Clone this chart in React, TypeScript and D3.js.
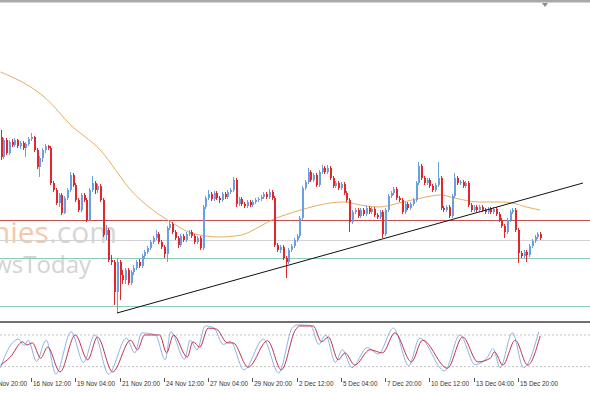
import React, { useEffect } from "react";
import * as d3 from "d3";

// ---- Data (prices in pips above the lowest visible level) ----
const firstOpen = 178;
const closes = [
  158,175,162,173,170,175,169,172,167,171,
  176,178,165,148,157,165,169,167,132,125,
  112,120,102,117,125,140,130,115,105,120,
  115,95,125,132,125,129,115,80,85,55,
  53,23,53,40,35,45,32,43,47,53,
  49,59,63,67,73,77,81,73,68,61,
  87,91,83,77,70,79,75,81,83,79,
  73,77,67,108,117,121,116,122,117,115,
  121,118,123,125,135,111,116,111,109,113,
  110,113,115,116,118,121,118,123,117,70,
  65,68,57,53,65,69,75,79,97,127,
  133,143,135,140,130,143,147,143,147,137,
  129,132,127,131,122,115,93,103,105,99,
  105,101,107,103,106,100,98,103,81,105,
  119,122,126,117,115,103,111,107,111,115,
  132,149,137,132,135,129,125,130,137,107,
  105,108,99,119,137,132,133,129,132,110,
  105,108,105,108,105,103,106,103,106,101,
  95,89,83,95,103,105,85,62,59,63,
  60,69,74,78,81,77,
];
const highs = [
  185,177,177,175,176,177,176,174,174,173,
  178,182,179,167,159,167,171,170,169,134,
  127,122,122,119,127,143,142,132,117,122,
  122,117,127,139,134,131,131,117,90,87,
  60,55,57,55,45,47,47,45,50,55,
  56,61,65,69,75,79,85,83,75,70,
  89,94,93,85,79,81,81,83,85,85,
  81,79,79,110,119,125,123,124,124,119,
  123,123,125,127,138,137,118,118,113,115,
  115,115,117,118,120,123,123,126,125,119,
  72,70,70,59,67,71,77,81,99,129,
  135,147,145,142,142,145,150,149,150,149,
  139,134,134,133,133,124,117,105,107,107,
  107,107,109,109,108,108,102,105,105,107,
  121,124,128,128,119,117,113,113,113,117,
  134,153,151,139,137,137,131,132,153,139,
  109,110,110,121,142,139,135,135,134,134,
  112,110,110,110,110,107,108,108,108,108,
  103,97,91,97,105,107,107,87,64,65,
  65,71,76,80,83,83,
];
const lows = [
  155,156,160,160,168,168,167,166,165,158,
  169,174,163,146,138,153,162,165,130,123,
  110,108,100,101,115,123,128,113,103,103,
  113,93,94,123,121,122,113,78,75,53,
  50,10,2,15,31,31,30,30,40,45,
  47,47,56,61,65,71,75,71,66,57,
  53,85,81,75,67,68,73,73,79,77,
  71,71,65,65,106,115,114,114,115,112,
  113,116,116,121,123,108,109,109,107,107,
  108,108,111,113,114,116,116,116,115,68,
  63,62,55,37,51,63,67,73,77,95,
  125,131,133,133,128,128,141,141,141,135,
  127,127,125,125,120,113,83,91,101,97,
  97,99,99,101,101,98,96,96,77,79,
  103,117,120,115,113,101,101,105,105,109,
  113,130,135,130,130,127,123,123,128,105,
  103,103,97,97,117,130,130,127,127,108,
  103,103,103,103,103,101,101,101,101,99,
  93,87,77,81,93,101,83,52,57,57,
  53,58,67,72,76,75,
];

// Moving average read at selected bars
const maIdx = [0,17,25,36,48,55,61,68,72,79,87,94,98,105,111,117,124,130,137,144,152,159,164,173,181,185,190,195];
const maVal = [243,215,191,165,122,105,94,83,80,78,80,89,95,102,107,111,113,110,108,112,117,120,117,113,113,112,108,105];

// Trend line anchors
const trendIdx = [42.1, 210.5];
const trendVal = [2, 132];

// Horizontal levels
const levelVals = [95, 75, 57, 9];

// Stochastic %K and %D (read at turning points)
const kIdx = [0,2,6.5,8.5,10,13,16.5,20,25.5,30,34,39,45.5,48.5,51,56,59.5,61.5,66.5,68.5,71,74,77,80.5,83,88,95,100.5,105.5,107.5,112,115,117.5,121,123.5,127,132.5,136.5,142,147.5,151.5,160.5,166,171.5,176,178,180.5,185,189,194.5];
const kVal = [18,45,72,60,70,30,70,6,86,28,80,6,74,46,84,80,33,86,34,70,52,97,94,62,68,14,72,8,94,99,98,62,80,28,52,18,56,44,93,22,74,12,80,24,38,54,18,84,18,86];
const dIdx = [0,3.5,8,9.5,11.5,14.5,17,21.5,27,31.5,35,40.5,47,49.5,52,57.5,60,62.5,67.5,69.5,72,75,78,82,84,89.5,96.5,101.5,106.5,108,113,116,118.5,122,124.5,128,133.5,138,142.5,148.5,152.5,161.5,167,172.5,177,178.5,181.5,186,190.5,195];
const dVal = [23,38,67,61,65,36,57,10,80,33,76,10,70,52,80,80,46,80,38,67,57,93,91,65,65,19,69,14,89,97,97,67,76,33,46,23,52,46,84,29,70,17,76,29,36,48,23,70,23,78];
const stochLevels = [80, 20];

// Time axis
const tickIdx = [-5, 11, 27, 43, 59, 75, 91, 107, 123, 139, 155, 171, 187];
const tickLabels = [
  "13 Nov 20:00", "16 Nov 12:00", "19 Nov 04:00", "21 Nov 20:00", "24 Nov 12:00",
  "27 Nov 04:00", "29 Nov 20:00", "2 Dec 12:00", "5 Dec 04:00", "7 Dec 20:00",
  "10 Dec 12:00", "13 Dec 04:00", "15 Dec 20:00",
];

const W = 590;
const H = 393;

export default function App() {
  useEffect(() => {
    document.body.style.margin = "0";
  }, []);

  const x = d3.scaleLinear().domain([0, 213]).range([0.56, 0.56 + 213 * 2.767]);
  const y = d3.scaleLinear().domain([0, 315]).range([315, 0]);
  const ys = d3.scaleLinear().domain([0, 100]).range([377.2, 324.4]);

  const levelColors = ["#c4504e", "#d2d2d2", "#8fcab5", "#8fcab5"];
  const bullColor = "#6b9fe4";
  const bearColor = "#e3262b";

  const maLine = d3
    .line<number>()
    .x((_, i) => x(maIdx[i]))
    .y((d) => y(d))
    .curve(d3.curveMonotoneX);

  const kLine = d3
    .line<number>()
    .x((_, i) => x(kIdx[i]))
    .y((d) => ys(d))
    .curve(d3.curveMonotoneX);
  const dLine = d3
    .line<number>()
    .x((_, i) => x(dIdx[i]))
    .y((d) => ys(d))
    .curve(d3.curveMonotoneX);

  const candles = closes.map((c, i) => {
    const o = i === 0 ? firstOpen : closes[i - 1];
    const bull = c >= o;
    const cx = Math.round(x(i));
    const top = y(Math.max(o, c));
    const bot = y(Math.min(o, c));
    const col = bull ? bullColor : bearColor;
    return (
      <g key={i}>
        <line x1={cx + 0.5} x2={cx + 0.5} y1={y(highs[i])} y2={y(lows[i])} stroke={col} strokeWidth={1} />
        <rect x={cx - 0.5} y={top} width={2} height={Math.max(1, bot - top)} fill={col} />
      </g>
    );
  });

  return (
    <svg
      width={W}
      height={H}
      viewBox={`0 0 ${W} ${H}`}
      style={{ position: "absolute", left: 0, top: 0, display: "block", background: "#ffffff" }}
      fontFamily="'Liberation Sans', Arial, sans-serif"
    >
      <defs>
        <clipPath id="mainClip">
          <rect x={0} y={3} width={W} height={317} />
        </clipPath>
        <clipPath id="stochClip">
          <rect x={0} y={323} width={W} height={55} />
        </clipPath>
      </defs>
      <rect x={0} y={0} width={W} height={H} fill="#ffffff" />

      {/* watermark */}
      <g clipPath="url(#mainClip)">
        <text x={117} y={243} fontSize={30} textAnchor="end" fontFamily="'Open Sans', 'Liberation Sans', sans-serif">
          <tspan fill="#f5c9a8">Economies</tspan>
          <tspan fill="#d6d6d6">.com</tspan>
        </text>
        <text x={91} y={273} fontSize={24} textAnchor="end" fill="#d3d3d3" fontFamily="'Open Sans', 'Liberation Sans', sans-serif">
          NewsToday
        </text>
      </g>

      {/* top border and shift marker */}
      <rect x={0} y={0} width={W} height={2.5} fill="#a9a9a9" />
      <path d="M542,3 L548,3 L545,7 Z" fill="#8a8a8a" />

      <g clipPath="url(#mainClip)">
        {levelVals.map((v, i) => (
          <line key={i} x1={0} x2={W} y1={y(v) + 0.5} y2={y(v) + 0.5} stroke={levelColors[i]} strokeWidth={1} />
        ))}
        <path d={maLine(maVal) || ""} fill="none" stroke="#e7ad62" strokeWidth={1} />
        <g shapeRendering="crispEdges">{candles}</g>
        <line
          x1={x(trendIdx[0])}
          y1={y(trendVal[0])}
          x2={x(trendIdx[1])}
          y2={y(trendVal[1])}
          stroke="#111111"
          strokeWidth={1}
        />
      </g>

      {/* stochastic sub-window */}
      <rect x={0} y={321} width={W} height={2} fill="#6e6e6e" />
      <g clipPath="url(#stochClip)">
        {stochLevels.map((v) => (
          <line key={v} x1={0} x2={W} y1={ys(v)} y2={ys(v)} stroke="#c4c4c4" strokeWidth={1} strokeDasharray="2,2" />
        ))}
        <path d={kLine(kVal) || ""} fill="none" stroke="#8fb2e2" strokeWidth={1} />
        <path d={dLine(dVal) || ""} fill="none" stroke="#c2334f" strokeWidth={1} />
      </g>

      {/* time axis */}
      <g>
        {tickIdx.map((t, i) => {
          const tx = Math.round(x(t)) + 0.5;
          return (
            <g key={i}>
              <line x1={tx} x2={tx} y1={378} y2={382} stroke="#555" strokeWidth={1} />
              <text x={tx + 1.5} y={386} fontSize={6.4} fill="#333">
                {tickLabels[i]}
              </text>
            </g>
          );
        })}
      </g>
    </svg>
  );
}
